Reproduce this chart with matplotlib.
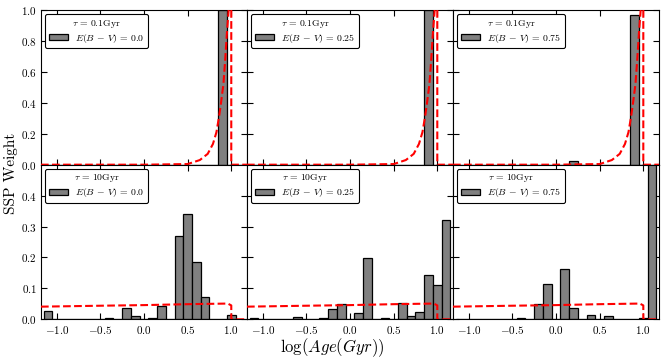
import numpy as np
import matplotlib
matplotlib.use('Agg')
import matplotlib.pyplot as plt
from matplotlib.ticker import MultipleLocator

plt.rcParams['font.family'] = 'serif'
plt.rcParams['font.serif'] = ['cmr10']
plt.rcParams['mathtext.fontset'] = 'cm'
plt.rcParams['axes.formatter.use_mathtext'] = True

# SSP age bins (log Gyr)
bins = np.round(np.arange(-1.1, 1.11, 0.1), 1)

# weights per bin, rows: tau = 0.1 / 10 Gyr, cols: E(B-V) = 0.0 / 0.25 / 0.75
w_t01_e000 = {0.9: 1.0}
w_t01_e025 = {0.9: 1.0}
w_t01_e075 = {0.2: 0.025, 0.9: 0.97}
w_t10_e000 = {-1.1: 0.028, -0.5: 0.002, -0.4: 0.003, -0.3: 0.001, -0.2: 0.036,
              -0.1: 0.010, 0.1: 0.003, 0.2: 0.042, 0.4: 0.270, 0.5: 0.341,
              0.6: 0.186, 0.7: 0.071, 0.8: 0.002, 1.0: 0.014}
w_t10_e025 = {-1.1: 0.005, -0.6: 0.009, -0.5: 0.002, -0.3: 0.003, -0.2: 0.035,
              -0.1: 0.051, 0.1: 0.022, 0.2: 0.197, 0.4: 0.003, 0.6: 0.054,
              0.7: 0.011, 0.8: 0.025, 0.9: 0.143, 1.0: 0.111, 1.1: 0.321}
w_t10_e075 = {-0.5: 0.002, -0.4: 0.003, -0.2: 0.049, -0.1: 0.113, 0.1: 0.164,
              0.2: 0.038, 0.4: 0.014, 0.6: 0.012, 1.0: 0.003, 1.1: 0.60}

# input star formation history curves
sfh_t01_x = [-1.18, 0.0, 0.5, 0.64, 0.73, 0.79, 0.83, 0.86, 0.88, 0.91, 0.93,
             0.95, 0.97, 1.0, 1.0, 1.18]
sfh_t01_y = [0.0, 0.0, 0.004, 0.03, 0.07, 0.134, 0.21, 0.31, 0.39, 0.52, 0.675,
             0.85, 1.0, 1.2, 0.0, 0.0]
sfh_t10_x = [-1.18, -0.5, 0.0, 0.5, 0.96, 1.0, 1.0, 1.18]
sfh_t10_y = [0.041, 0.044, 0.046, 0.049, 0.051, 0.045, 0.0, 0.0]

taus = ['0.1', '10']
ebvs = ['0.0', '0.25', '0.75']
weights = [[w_t01_e000, w_t01_e025, w_t01_e075],
           [w_t10_e000, w_t10_e025, w_t10_e075]]
curves = [(sfh_t01_x, sfh_t01_y), (sfh_t10_x, sfh_t10_y)]

fig, axes = plt.subplots(2, 3, figsize=(6.64, 3.58), dpi=100)
plt.subplots_adjust(left=0.0617, right=0.9925, top=0.972, bottom=0.108,
                    wspace=0, hspace=0)

for i in range(2):
    for j in range(3):
        ax = axes[i, j]
        w = weights[i][j]
        vals = [w.get(b, 0.0) for b in bins]
        ax.bar(bins, vals, width=0.1, color='gray', edgecolor='black',
               linewidth=0.9, label=r'$E(B\,-\,V)\,=\,%s$' % ebvs[j], zorder=2)
        ax.plot(curves[i][0], curves[i][1], 'r--', lw=1.5, zorder=3)
        ax.set_xlim(-1.18, 1.18)
        ax.xaxis.set_major_locator(MultipleLocator(0.5))
        if i == 0:
            ax.set_ylim(0, 1.0)
            ax.yaxis.set_major_locator(MultipleLocator(0.2))
            ax.set_xticklabels([])
        else:
            ax.set_ylim(0, 0.5)
            ax.set_yticks([0.0, 0.1, 0.2, 0.3, 0.4])
        if j > 0:
            ax.set_yticklabels([])
        ax.tick_params(direction='in', top=True, right=True, length=4,
                       labelsize=8, pad=3)
        leg = ax.legend(loc='upper left', fontsize=7,
                        title=r'$\tau\,=\,%s$Gyr' % taus[i],
                        title_fontsize=7, fancybox=True, framealpha=1,
                        handlelength=2.0, handleheight=0.6, borderpad=0.35,
                        labelspacing=0.2, handletextpad=0.7,
                        borderaxespad=0.45)
        leg.get_frame().set_edgecolor('black')
        leg.get_frame().set_linewidth(0.8)

fig.text(0.017, 0.517, 'SSP Weight', rotation=90, ha='center', va='center',
         fontsize=11)
fig.text(0.5, 0.03, r'$\log(Age(Gyr))$', ha='center', va='center',
         fontsize=12)

fig.savefig('out.png', dpi=100)
